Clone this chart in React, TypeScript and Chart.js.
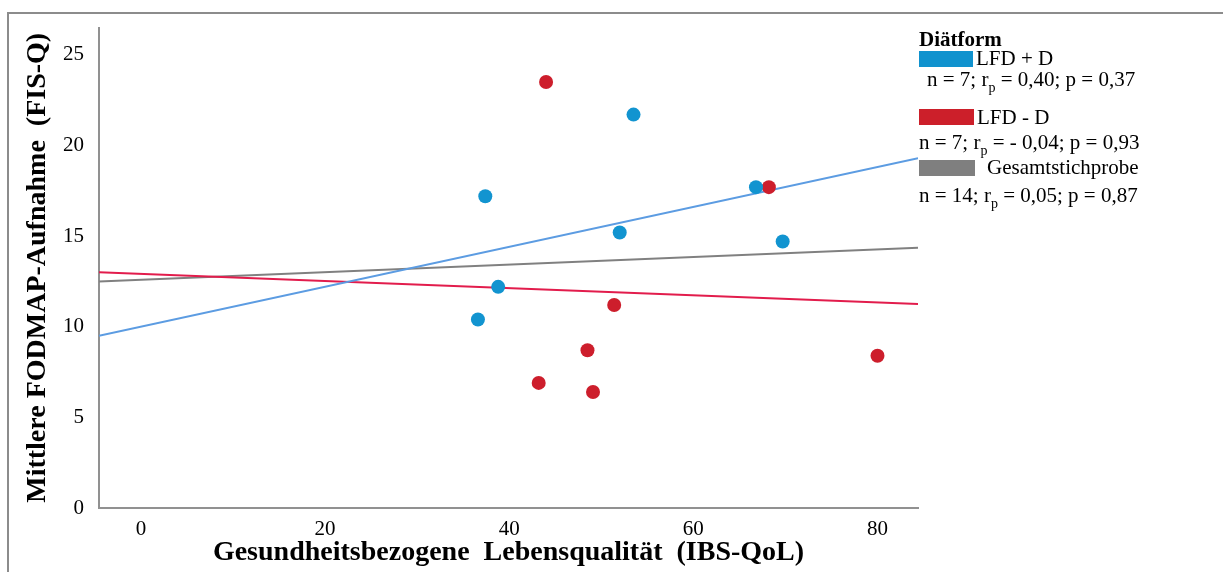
import React, { useEffect, useRef } from "react";
import { Chart, registerables } from "chart.js";

Chart.register(...registerables);

// IBS-QoL (x) and mean FODMAP intake (y) per participant, by diet form
const lfdPlusDX = [53.5, 37.4, 66.8, 52.0, 69.7, 38.8, 36.6];
const lfdPlusDY = [21.7, 17.2, 17.7, 15.2, 14.7, 12.2, 10.4];
const lfdMinusDX = [44.0, 68.2, 51.4, 48.5, 43.2, 49.1, 80.0];
const lfdMinusDY = [23.5, 17.7, 11.2, 8.7, 6.9, 6.4, 8.4];

// Regression lines, evaluated at the ends of the x range
const fitRangeX = [-4.56, 84.4];
const fitPlusY = [9.5, 19.3];
const fitMinusY = [13.0, 11.25];
const fitTotalY = [12.5, 14.35];

const xTicks = [0, 20, 40, 60, 80];
const yTicks = [0, 5, 10, 15, 20, 25];

const BLUE = "rgb(18,148,208)";
const RED = "rgb(205,30,44)";
const BLUE_LINE = "rgb(92,156,226)";
const RED_LINE = "rgb(226,28,76)";
const GRAY_LINE = "rgb(128,128,128)";
const AXIS = "rgb(145,145,145)";
const SERIF = "'Liberation Serif', 'Times New Roman', serif";

const toPoints = (xs: number[], ys: number[]) => xs.map((x, i) => ({ x, y: ys[i] }));

function StatLine({ n, r, p, top, left }: { n: string; r: string; p: string; top: number; left: number }) {
  return (
    <div style={{ position: "absolute", left, top, fontSize: 21, lineHeight: "21px", whiteSpace: "nowrap" }}>
      n = {n}; r
      <span style={{ fontSize: 14, lineHeight: 0, position: "relative", top: 6 }}>p</span> = {r}; p = {p}
    </div>
  );
}

export default function App() {
  const canvasRef = useRef<HTMLCanvasElement | null>(null);

  useEffect(() => {
    const canvas = canvasRef.current;
    if (!canvas) return;
    const chart = new Chart(canvas, {
      type: "scatter",
      data: {
        datasets: [
          {
            label: "LFD + D",
            data: toPoints(lfdPlusDX, lfdPlusDY),
            backgroundColor: BLUE,
            borderWidth: 0,
            pointRadius: 7,
          },
          {
            label: "LFD - D",
            data: toPoints(lfdMinusDX, lfdMinusDY),
            backgroundColor: RED,
            borderWidth: 0,
            pointRadius: 7,
          },
          {
            type: "line",
            label: "Fit LFD + D",
            data: toPoints(fitRangeX, fitPlusY),
            borderColor: BLUE_LINE,
            borderWidth: 2,
            pointRadius: 0,
          },
          {
            type: "line",
            label: "Fit LFD - D",
            data: toPoints(fitRangeX, fitMinusY),
            borderColor: RED_LINE,
            borderWidth: 2,
            pointRadius: 0,
          },
          {
            type: "line",
            label: "Fit Gesamtstichprobe",
            data: toPoints(fitRangeX, fitTotalY),
            borderColor: GRAY_LINE,
            borderWidth: 2,
            pointRadius: 0,
          },
        ],
      },
      options: {
        responsive: false,
        animation: false,
        devicePixelRatio: 1,
        layout: { padding: { left: 0, top: 22, right: 305, bottom: 0 } },
        plugins: { legend: { display: false }, tooltip: { enabled: false } },
        scales: {
          x: {
            type: "linear",
            min: fitRangeX[0],
            max: fitRangeX[1],
            afterFit: (s: any) => {
              s.height = 64;
            },
            afterBuildTicks: (s: any) => {
              s.ticks = xTicks.map((v) => ({ value: v }));
            },
            grid: { display: false, drawTicks: false },
            border: { display: true, color: AXIS, width: 2 },
            ticks: {
              padding: 9,
              color: "#000",
              font: { family: SERIF, size: 21 },
            },
            title: {
              display: true,
              text: "Gesundheitsbezogene  Lebensqualität  (IBS-QoL)",
              color: "#000",
              font: { family: SERIF, size: 28, weight: "bold" },
              padding: { top: 0, bottom: 2 },
            },
          },
          y: {
            type: "linear",
            min: 0,
            max: 26.5,
            afterFit: (s: any) => {
              s.width = 99;
            },
            afterBuildTicks: (s: any) => {
              s.ticks = yTicks.map((v) => ({ value: v }));
            },
            grid: { display: false, drawTicks: false },
            border: { display: true, color: AXIS, width: 2 },
            ticks: {
              padding: 15,
              color: "#000",
              font: { family: SERIF, size: 21 },
            },
            title: {
              display: true,
              text: "Mittlere FODMAP-Aufnahme  (FIS-Q)",
              color: "#000",
              font: { family: SERIF, size: 28, weight: "bold" },
              padding: { top: 21, bottom: 0 },
            },
          },
        },
      },
    } as any);
    return () => chart.destroy();
  }, []);

  const box = (left: number, top: number, width: number, color: string) => (
    <div style={{ position: "absolute", left, top, width, height: 16, background: color }} />
  );

  return (
    <div
      style={{
        position: "fixed",
        left: 0,
        top: 0,
        width: 1223,
        height: 572,
        background: "#fff",
        fontFamily: SERIF,
        color: "#000",
      }}
    >
      <canvas ref={canvasRef} width={1223} height={572} style={{ position: "absolute", left: 0, top: 0 }} />
      {/* figure frame */}
      <div style={{ position: "absolute", left: 7, top: 12, width: 1216, height: 2, background: "rgb(140,140,140)" }} />
      <div style={{ position: "absolute", left: 7, top: 12, width: 2, height: 560, background: "rgb(140,140,140)" }} />
      {/* legend */}
      <div style={{ position: "absolute", left: 919, top: 29, fontSize: 21, lineHeight: "21px", fontWeight: "bold", whiteSpace: "nowrap" }}>
        Diätform
      </div>
      {box(919, 51, 54, "rgb(16,146,206)")}
      <div style={{ position: "absolute", left: 976, top: 48, fontSize: 21, lineHeight: "21px", whiteSpace: "nowrap" }}>LFD + D</div>
      <StatLine n="7" r="0,40" p="0,37" left={927} top={69} />
      {box(919, 109, 55, "rgb(204,31,42)")}
      <div style={{ position: "absolute", left: 977, top: 107, fontSize: 21, lineHeight: "21px", whiteSpace: "nowrap" }}>LFD - D</div>
      <StatLine n="7" r="- 0,04" p="0,93" left={919} top={132} />
      {box(919, 160, 56, "rgb(127,127,127)")}
      <div style={{ position: "absolute", left: 987, top: 157, fontSize: 21, lineHeight: "21px", whiteSpace: "nowrap" }}>Gesamtstichprobe</div>
      <StatLine n="14" r="0,05" p="0,87" left={919} top={185} />
    </div>
  );
}
